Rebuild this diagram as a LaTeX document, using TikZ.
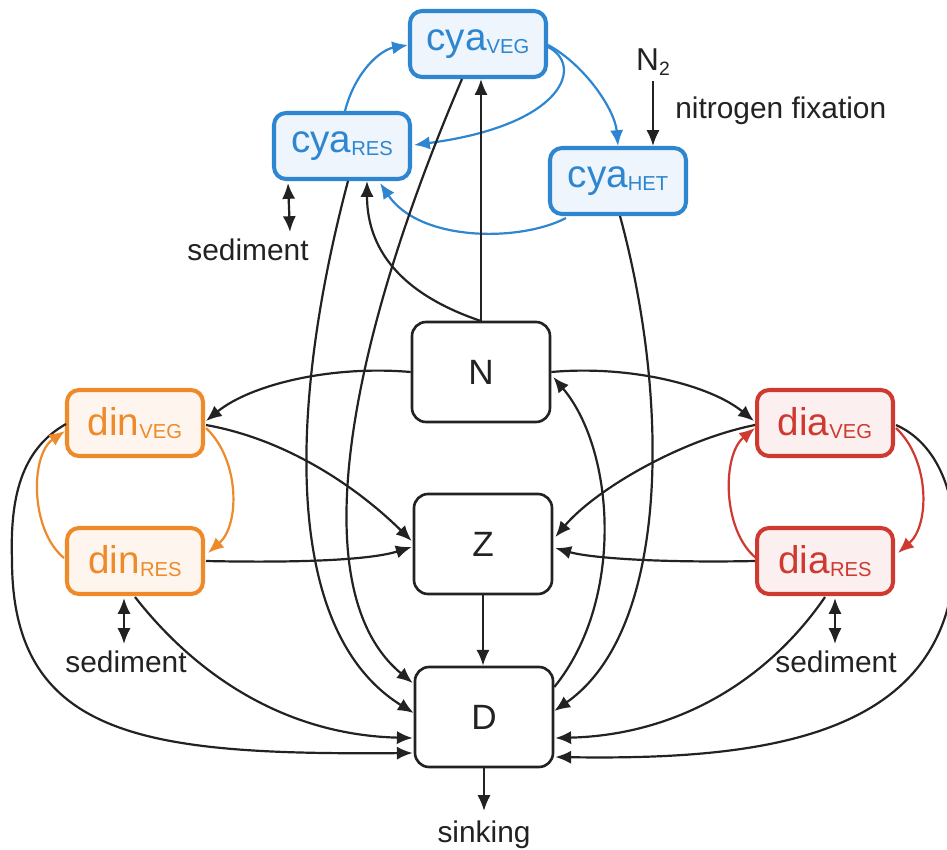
\documentclass[tikz,border=0pt]{standalone}
\usepackage{fontspec}
\setmainfont{Liberation Sans}
\usetikzlibrary{arrows.meta,calc}

\definecolor{cyablue}{HTML}{2E86D0}
\definecolor{cyafill}{HTML}{EEF5FC}
\definecolor{dinorange}{HTML}{EE8A2A}
\definecolor{dinfill}{HTML}{FEF6EE}
\definecolor{diared}{HTML}{CF3A30}
\definecolor{diafill}{HTML}{FBF0EF}
\definecolor{ink}{HTML}{222222}

% group name with a lowered life-stage label
\newcommand{\grp}[2]{#1{\fontsize{11.5}{11.5}\selectfont\raisebox{-1.8pt}{#2}}}

\begin{document}
\begin{tikzpicture}[x=0.02cm,y=-0.02cm,
  species/.style={draw, rounded corners=0.24cm, line width=2.3pt,
    minimum width=2.72cm, minimum height=1.32cm, inner sep=0pt,
    font=\fontsize{22}{22}\selectfont},
  cyabox/.style={species, draw=cyablue, fill=cyafill, text=cyablue},
  dinbox/.style={species, draw=dinorange, fill=dinfill, text=dinorange},
  diabox/.style={species, draw=diared, fill=diafill, text=diared},
  pool/.style={draw=ink, rounded corners=0.28cm, line width=1.5pt, fill=white,
    minimum width=2.76cm, minimum height=2cm, inner sep=0pt, text=ink,
    font=\fontsize{20}{20}\selectfont},
  tip/.tip={Latex[length=9pt,width=7.5pt]},
  flow/.style={draw=ink, line width=1.25pt, -tip},
  both/.style={draw=ink, line width=1.25pt, tip-tip},
  cyaflow/.style={flow, draw=cyablue},
  dinflow/.style={flow, draw=dinorange},
  diaflow/.style={flow, draw=diared},
  lbl/.style={font=\fontsize{17}{17}\selectfont, text=ink, inner sep=0pt},
]
\fill[white] (0,0) rectangle (947,849);
\useasboundingbox (0,0) rectangle (947,849);

% ---- boxes ----
\node[cyabox] (cyaveg) at (478,44) {\grp{cya}{VEG}};
\node[cyabox] (cyares) at (342,146) {\grp{cya}{RES}};
\node[cyabox] (cyahet) at (618,181) {\grp{cya}{HET}};
\node[dinbox] (dinveg) at (135,423) {\grp{din}{VEG}};
\node[dinbox] (dinres) at (135,561) {\grp{din}{RES}};
\node[diabox] (diaveg) at (825,423) {\grp{dia}{VEG}};
\node[diabox] (diares) at (825,561) {\grp{dia}{RES}};
\node[pool] (nN) at (481,372) {N};
\node[pool] (zZ) at (483,544) {Z};
\node[pool] (dD) at (484,717) {D};

% ---- labels ----
\node[font=\fontsize{18}{18}\selectfont, text=ink, inner sep=1pt] (ntwo) at (653,62)
  {N{\fontsize{11}{11}\selectfont\raisebox{-2.5pt}{2}}};
\node[lbl, anchor=base west] (fixlbl) at (675,118) {nitrogen fixation};
\node[lbl, anchor=base] (sedcya) at (248,260) {sediment};
\node[lbl, anchor=base] (seddin) at (126,672) {sediment};
\node[lbl, anchor=base] (seddia) at (836,672) {sediment};
\node[lbl, anchor=base] (sinklbl) at (484,842) {sinking};

% ---- cyanobacteria life cycle ----
\draw[cyaflow] ($(cyares.north)+(3,0)$) .. controls (355,72) and (380,50) .. ($(cyaveg.west)+(0,1)$);
\draw[cyaflow] ($(cyaveg.east)+(0,3)$) .. controls (584,65) and (565,125) .. ($(cyares.east)+(2,-1)$);
\draw[cyaflow] ($(cyaveg.east)+(0,1)$) .. controls (585,65) and (615,110) .. (cyahet.north);
\draw[cyaflow] ($(cyahet.south west)+(18,2)$) .. controls (520,242) and (420,242) .. ($(cyares.south)+(38,2)$);

% ---- nitrogen fixation ----
\draw[flow] ($(ntwo.south)+(0,4)$) -- (ntwo.south |- cyahet.north);

% ---- nutrient uptake ----
\draw[flow] (nN.north) -- (nN.north |- cyaveg.south);
\draw[flow] ($(nN.north)+(-1,0)$) .. controls (390,290) and (367,240) .. ($(cyares.south)+(25,0)$);
\draw[flow] (nN.west) .. controls (330,365) and (250,385) .. ($(dinveg.east)+(1,-2)$);
\draw[flow] (nN.east) .. controls (630,365) and (710,385) .. ($(diaveg.west)+(-1,-2)$);

% ---- mortality to detritus ----
\draw[flow] ($(cyaveg.south)+(-16,0)$) .. controls (350,340) and (300,590) .. ($(dD.west)+(-1,-34)$);
\draw[flow] ($(cyares.south)+(6,0)$) .. controls (290,400) and (280,630) .. ($(dD.west)+(0,-4)$);
\draw[flow] ($(cyahet.south)+(2,0)$) .. controls (670,400) and (670,630) .. ($(dD.east)+(0,-6)$);
\draw[flow] ($(dinveg.west)+(1,1)$) .. controls (20,450) and (10,500) .. (12,560)
  .. controls (12,740) and (150,755) .. ($(dD.west)+(-1,36)$);
\draw[flow] ($(dinres.south)+(0,1)$) .. controls (200,680) and (290,735) .. ($(dD.west)+(-1,21)$);
\draw[flow] ($(diaveg.east)+(1,2)$) .. controls (930,440) and (955,480) .. (955,545)
  .. controls (958,740) and (760,760) .. ($(dD.east)+(1,40)$);
\draw[flow] ($(diares.south)+(0,1)$) .. controls (768,680) and (678,735) .. ($(dD.east)+(1,21)$);

% ---- remineralisation ----
\draw[flow] ($(dD.east)+(0,-30)$) .. controls (625,600) and (615,450) .. ($(nN.east)+(2,5)$);

% ---- grazing ----
\draw[flow] ($(dinveg.east)+(1,2)$) .. controls (290,440) and (360,490) .. ($(zZ.west)+(-1,-3)$);
\draw[flow] ($(dinres.east)+(1,0)$) .. controls (300,563) and (370,560) .. ($(zZ.west)+(-1,3)$);
\draw[flow] ($(diaveg.west)+(0,2)$) .. controls (680,440) and (595,490) .. ($(zZ.east)+(2,-7)$);
\draw[flow] (diares.west) .. controls (660,563) and (590,558) .. ($(zZ.east)+(2,4)$);
\draw[flow] (zZ.south) -- (zZ.south |- dD.north);

% ---- dinoflagellate and diatom life cycles ----
\draw[dinflow] ($(dinres.west)+(-1,-3)$) .. controls (30,530) and (30,455) .. ($(dinveg.west)+(0,8)$);
\draw[dinflow] ($(dinveg.east)+(1,5)$) .. controls (240,460) and (240,525) .. ($(dinres.east)+(3,-8)$);
\draw[diaflow] ($(diares.west)+(1,-3)$) .. controls (722,530) and (722,455) .. ($(diaveg.west)+(0,5)$);
\draw[diaflow] ($(diaveg.east)+(1,5)$) .. controls (930,460) and (930,525) .. ($(diares.east)+(3,-8)$);

% ---- exchange with sediment, sinking ----
\draw[both] ($(cyares.south west)+(16,2)$) -- ($(sedcya.north)+(42,-6)$);
\draw[both] ($(dinres.south)+(-11,2)$) -- ($(seddin.north)+(-2,-6)$);
\draw[both] ($(diares.south)+(10,2)$) -- ($(seddia.north)+(-1,-6)$);
\draw[flow] (dD.south) -- ($(sinklbl.north)+(0,-9)$);
\end{tikzpicture}
\end{document}
